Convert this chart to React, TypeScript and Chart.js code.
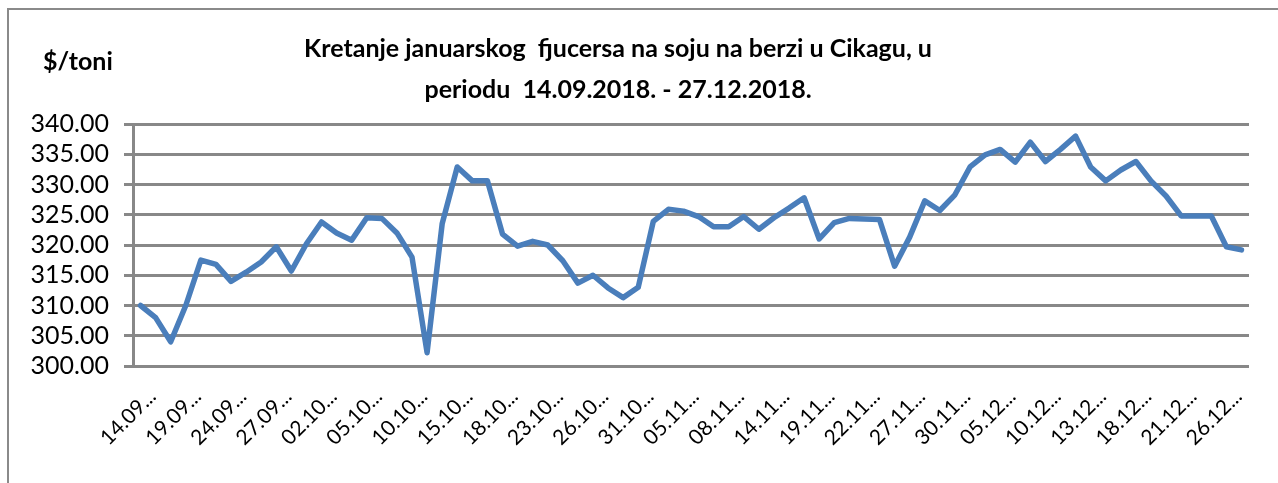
import React, { useEffect, useRef } from "react";
import { Chart, registerables } from "chart.js";

Chart.register(...registerables);

const TITLE_LINES = [
  "Kretanje januarskog  fjucersa na soju na berzi u Cikagu, u",
  "periodu  14.09.2018. - 27.12.2018.",
];
const UNIT_LABEL = "$/toni";

const DATES = [
  "14.09.2018.", "17.09.2018.", "18.09.2018.", "19.09.2018.", "20.09.2018.", "21.09.2018.",
  "24.09.2018.", "25.09.2018.", "26.09.2018.", "27.09.2018.", "28.09.2018.", "01.10.2018.",
  "02.10.2018.", "03.10.2018.", "04.10.2018.", "05.10.2018.", "08.10.2018.", "09.10.2018.",
  "10.10.2018.", "11.10.2018.", "12.10.2018.", "15.10.2018.", "16.10.2018.", "17.10.2018.",
  "18.10.2018.", "19.10.2018.", "22.10.2018.", "23.10.2018.", "24.10.2018.", "25.10.2018.",
  "26.10.2018.", "29.10.2018.", "30.10.2018.", "31.10.2018.", "01.11.2018.", "02.11.2018.",
  "05.11.2018.", "06.11.2018.", "07.11.2018.", "08.11.2018.", "09.11.2018.", "13.11.2018.",
  "14.11.2018.", "15.11.2018.", "16.11.2018.", "19.11.2018.", "20.11.2018.", "21.11.2018.",
  "22.11.2018.", "23.11.2018.", "26.11.2018.", "27.11.2018.", "28.11.2018.", "29.11.2018.",
  "30.11.2018.", "03.12.2018.", "04.12.2018.", "05.12.2018.", "06.12.2018.", "07.12.2018.",
  "10.12.2018.", "11.12.2018.", "12.12.2018.", "13.12.2018.", "14.12.2018.", "17.12.2018.",
  "18.12.2018.", "19.12.2018.", "20.12.2018.", "21.12.2018.", "24.12.2018.", "25.12.2018.",
  "26.12.2018.", "27.12.2018.",
];

const PRICES = [
  310.0, 308.0, 304.0, 310.0, 317.5, 316.8, 314.0, 315.5, 317.2, 319.7, 315.7, 320.2,
  323.8, 322.0, 320.8, 324.5, 324.4, 322.0, 318.0, 302.2, 323.5, 332.9, 330.6, 330.6,
  321.8, 319.8, 320.6, 320.0, 317.4, 313.7, 315.0, 312.9, 311.3, 313.0, 323.9, 325.9,
  325.6, 324.7, 323.0, 323.0, 324.7, 322.6, 324.5, 326.1, 327.8, 321.0, 323.7, 324.4,
  324.3, 324.2, 316.5, 321.3, 327.3, 325.7, 328.3, 332.9, 334.9, 335.8, 333.7, 337.0,
  333.8, 335.8, 338.0, 332.9, 330.6, 332.4, 333.8, 330.6, 328.1, 324.8, 324.8, 324.8,
  319.7, 319.2,
];

const Y_MIN = 300;
const Y_MAX = 340;
const Y_STEP = 5;
const LABEL_EVERY = 3;

const W = 1278;
const H = 483;

const textPlugin = {
  id: "titleText",
  afterDraw(chart: any) {
    const ctx = chart.ctx;
    ctx.save();
    ctx.fillStyle = "#000";
    ctx.textBaseline = "alphabetic";
    ctx.textAlign = "center";
    ctx.font = "bold 25px Lato, 'Liberation Sans', sans-serif";
    ctx.fillText(TITLE_LINES[0], 618, 57);
    ctx.fillText(TITLE_LINES[1], 618, 98);
    ctx.textAlign = "left";
    ctx.font = "bold 25px Lato, 'Liberation Sans', sans-serif";
    ctx.fillText(UNIT_LABEL, 43, 70);
    ctx.restore();
  },
};

export default function App() {
  const ref = useRef<HTMLCanvasElement | null>(null);

  useEffect(() => {
    if (!ref.current) return;
    const chart = new Chart(ref.current, {
      type: "line",
      data: {
        labels: DATES,
        datasets: [
          {
            data: PRICES,
            borderColor: "#4a7ebb",
            borderWidth: 5.5,
            pointRadius: 0,
            tension: 0,
            borderJoinStyle: "round",
            borderCapStyle: "round",
            fill: false,
          },
        ],
      },
      options: {
        animation: false,
        responsive: false,
        layout: { padding: { top: 124, right: 29, left: 0, bottom: 0 } },
        plugins: {
          legend: { display: false },
          title: { display: false },
          tooltip: { enabled: false },
        },
        scales: {
          x: {
            offset: true,
            grid: { display: false, drawTicks: false },
            border: { display: false },
            ticks: {
              autoSkip: false,
              maxRotation: 45,
              minRotation: 45,
              padding: 18,
              labelOffset: 12,
              color: "#000",
              font: { family: "Lato, 'Liberation Sans', sans-serif", size: 21 },
              callback: function (_v: any, i: number) {
                if (i % LABEL_EVERY !== 0) return null;
                return DATES[i].slice(0, 5) + "...";
              },
            },
            afterFit: (s: any) => {
              s.height = H - 366;
            },
          },
          y: {
            min: Y_MIN,
            max: Y_MAX,
            grid: { color: "#888888", lineWidth: 3, tickLength: 9, drawTicks: true },
            border: { display: true, color: "#888888", width: 3 },
            ticks: {
              stepSize: Y_STEP,
              autoSkip: false,
              padding: 15,
              color: "#000",
              font: { family: "Lato, 'Liberation Sans', sans-serif", size: 25 },
              callback: (v: any) => Number(v).toFixed(2),
            },
            afterFit: (s: any) => {
              s.width = 133;
            },
          },
        },
      },
      plugins: [textPlugin],
    } as any);
    return () => chart.destroy();
  }, []);

  return (
    <div
      style={{
        position: "absolute",
        left: 0,
        top: 0,
        width: W,
        height: H,
        overflow: "hidden",
        background: "#fff",
      }}
    >
      <div
        style={{
          position: "absolute",
          left: 7,
          top: 8,
          width: W,
          height: H,
          borderLeft: "2px solid #8a8a8a",
          borderTop: "2px solid #8a8a8a",
        }}
      />
      <canvas
        ref={ref}
        width={W}
        height={H}
        style={{ position: "absolute", left: 0, top: 0, width: W, height: H }}
      />
    </div>
  );
}
